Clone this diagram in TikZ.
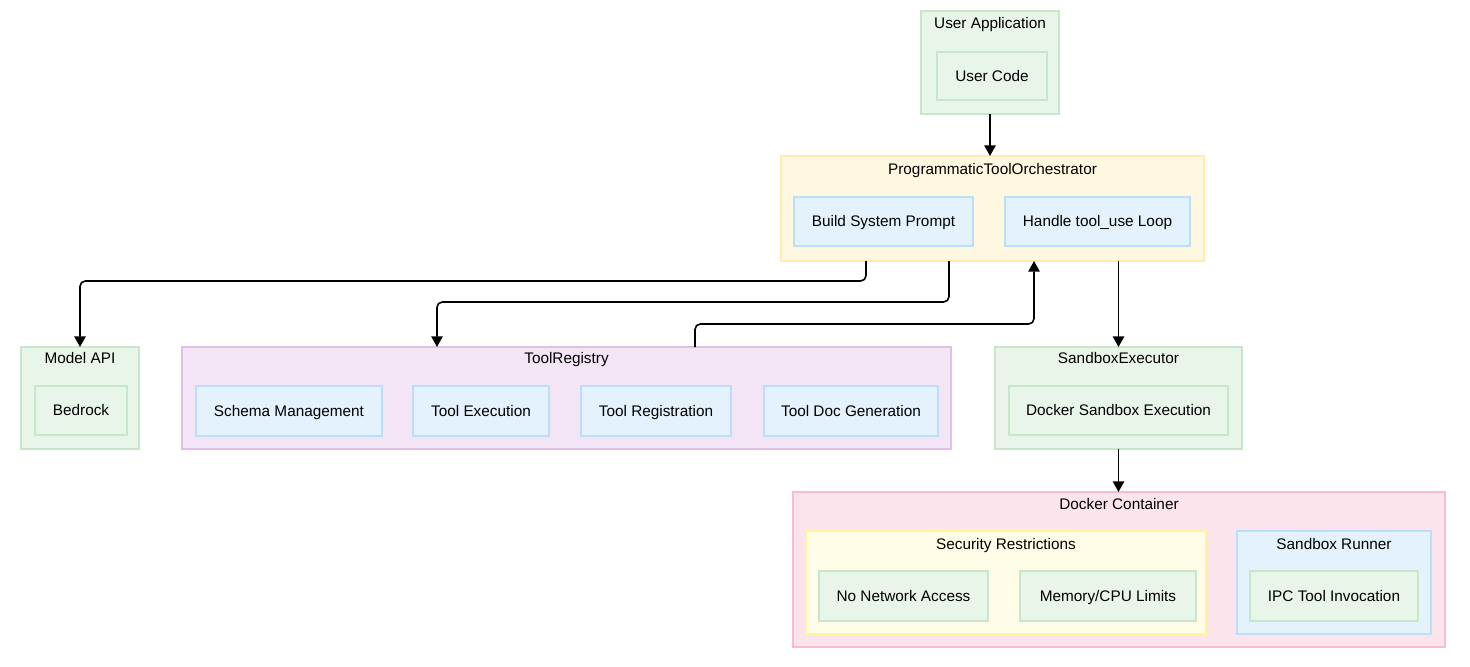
\documentclass[tikz,border=0pt]{standalone}
\usepackage{fontspec}
\setmainfont{Liberation Sans}
\usetikzlibrary{arrows.meta,shadows}
\newdimen\pxu \pxu=0.75pt
\definecolor{gfill}{HTML}{E8F5E9}\definecolor{gline}{HTML}{C8E6C9}
\definecolor{yfill}{HTML}{FFF8E1}\definecolor{yline}{HTML}{FFECB3}
\definecolor{y2fill}{HTML}{FFFDE7}\definecolor{y2line}{HTML}{FFF59D}
\definecolor{bfill}{HTML}{E3F2FD}\definecolor{bline}{HTML}{BBDEFB}
\definecolor{pfill}{HTML}{F3E5F5}\definecolor{pline}{HTML}{E1BEE7}
\definecolor{kfill}{HTML}{FCE4EC}\definecolor{kline}{HTML}{F8BBD0}
\newcommand{\boxnode}[7]{\node[#2, minimum width={(#5-#3)*\pxu}, minimum height={(#6-#4)*\pxu}] (#1) at ({(#3+#5)/2},{(#4+#6)/2}) {#7};}
\tikzset{
  txt/.style={font=\fontsize{11.5pt}{13pt}\selectfont, text height=10pt, text depth=2.3pt},
  base/.style={rectangle, inner sep=0pt, outer sep=0pt, line width=1.5pt, txt,
    drop shadow={opacity=0.12, shadow xshift=1pt, shadow yshift=-1pt}},
  gbox/.style={base, draw=gline, fill=gfill},
  ybox/.style={base, draw=yline, fill=yfill},
  y2box/.style={base, draw=y2line, fill=y2fill},
  bbox/.style={base, draw=bline, fill=bfill},
  pbox/.style={base, draw=pline, fill=pfill},
  kbox/.style={base, draw=kline, fill=kfill},
  lbl/.style={txt, inner sep=0pt},
  arr/.style={-{Triangle[length=8pt,width=8.5pt]}, line width=1.2pt, black, rounded corners=4pt}
}
\begin{document}
\begin{tikzpicture}[x=0.75pt,y=-0.75pt]
\useasboundingbox (0,0) rectangle (1470,667);
% User Application
\boxnode{ua}{gbox}{921}{11}{1059}{114}{}
\node[lbl] (ualbl) at (990,23) {User Application};
\boxnode{uc}{gbox}{937}{52}{1047}{100}{User Code}
% Orchestrator
\boxnode{orch}{ybox}{781}{156}{1204}{261}{}
\node[lbl] (orchlbl) at (992.5,169) {ProgrammaticToolOrchestrator};
\boxnode{bsp}{bbox}{794}{197}{973}{246}{Build System Prompt}
\boxnode{htl}{bbox}{1005}{197}{1190}{246}{Handle tool\_use Loop}
% Model API
\boxnode{model}{gbox}{21}{347}{139}{449}{}
\node[lbl] (modellbl) at (80,358) {Model API};
\boxnode{bed}{gbox}{35}{386}{127}{435}{Bedrock}
% ToolRegistry
\boxnode{treg}{pbox}{182}{347}{951}{449}{}
\node[lbl] (treglbl) at (566.5,358) {ToolRegistry};
\boxnode{sm}{bbox}{196}{386}{382}{436}{Schema Management}
\boxnode{te}{bbox}{413}{386}{549}{436}{Tool Execution}
\boxnode{tr}{bbox}{581}{386}{731}{436}{Tool Registration}
\boxnode{td}{bbox}{764}{386}{938}{436}{Tool Doc Generation}
% SandboxExecutor
\boxnode{sbx}{gbox}{995}{347}{1242}{449}{}
\node[lbl] (sbxlbl) at (1118.5,358) {SandboxExecutor};
\boxnode{dse}{gbox}{1009}{386}{1228}{435}{Docker Sandbox Execution}
% Docker Container
\boxnode{dock}{kbox}{793}{492}{1445}{647}{}
\node[lbl] (docklbl) at (1119,504) {Docker Container};
\boxnode{sec}{y2box}{806}{531}{1206}{634}{}
\node[lbl] (seclbl) at (1006,544) {Security Restrictions};
\boxnode{nna}{gbox}{819}{571}{988}{621}{No Network Access}
\boxnode{mcl}{gbox}{1020}{571}{1196}{621}{Memory/CPU Limits}
\boxnode{sr}{bbox}{1237}{531}{1431}{634}{}
\node[lbl] (srlbl) at (1334,544) {Sandbox Runner};
\boxnode{ipc}{gbox}{1250}{571}{1418}{621}{IPC Tool Invocation}
% Connectors
\draw[arr] (ua.south) -- (ua.south |- orch.north);
\draw[arr] ([xshift=-126.5\pxu]orch.south) -- ++(0,20) -| (model.north);
\draw[arr] ([xshift=-43.5\pxu]orch.south) -- ++(0,41) -| ([xshift=-129.5\pxu]treg.north);
\draw[arr] ([xshift=128.5\pxu]treg.north) -- ++(0,-23) -| ([xshift=41.5\pxu]orch.south);
\draw[arr] (orch.south -| sbx.north) -- (sbx.north);
\draw[arr] (sbx.south) -- (sbx.south |- dock.north);
\end{tikzpicture}
\end{document}
